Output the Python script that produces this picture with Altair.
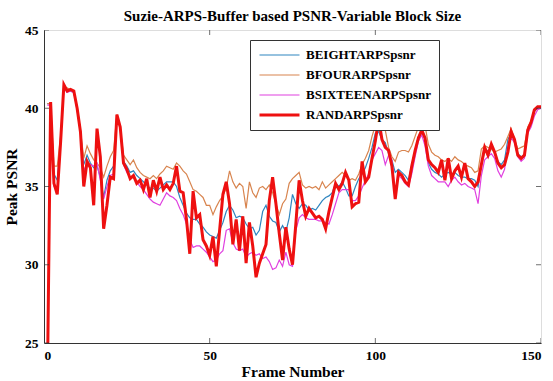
import altair as alt
import pandas as pd

frames = list(range(1, 151))

beight = [40.3, 40.3, 35.8, 35.4, 38.0, 41.3, 41.1, 41.1, 41.0, 40.0,
          38.5, 36.4, 37.0, 36.5, 36.2, 36.3, 35.6, 34.3, 35.4, 36.0,
          36.3, 39.5, 38.8, 36.6, 36.3, 35.9, 36.0, 35.7, 35.5, 35.3,
          35.1, 34.9, 34.9, 34.7, 34.9, 35.1, 35.3, 35.3, 35.3, 35.0,
          34.3, 33.8, 33.3, 33.0, 32.9, 32.9, 32.6, 32.4, 32.1, 31.9,
          31.8, 31.7, 32.2, 32.7, 33.4, 33.8, 33.5, 33.0, 33.1, 33.0,
          32.6, 32.3, 32.4, 31.9, 32.2, 33.4, 33.8, 33.1, 32.8, 32.7,
          32.1, 32.5, 32.1, 33.0, 34.5, 33.9, 33.6, 33.9, 33.8, 33.5,
          33.6, 33.5, 33.8, 34.1, 34.3, 34.4, 34.6, 35.2, 35.0, 35.3,
          34.9, 34.4, 34.4, 35.0, 35.5, 35.8, 36.2, 36.8, 37.5, 38.4,
          38.5, 38.0, 37.8, 37.1, 36.7, 35.9, 36.1, 35.9, 35.7, 35.4,
          36.4, 37.3, 38.2, 38.6, 38.0, 36.5, 36.1, 35.9, 35.8, 35.6,
          35.8, 35.9, 35.8, 35.9, 35.7, 35.6, 35.6, 35.5, 35.5, 35.4,
          35.0, 36.4, 37.2, 37.3, 37.4, 37.2, 36.6, 36.4, 36.7, 38.0,
          38.4, 37.9, 37.1, 36.9, 37.0, 38.6, 39.0, 39.8, 40.0, 40.1]

bfour = [40.3, 40.3, 36.3, 36.3, 38.2, 41.2, 41.3, 41.2, 41.0, 40.1,
         38.6, 36.8, 37.6, 37.1, 36.7, 36.5, 36.2, 35.6, 36.3, 36.9,
         37.3, 39.6, 38.8, 37.0, 36.7, 36.4, 36.7, 36.2, 35.9, 35.7,
         35.6, 35.5, 35.7, 35.5, 35.8, 36.0, 36.3, 36.2, 36.1, 36.5,
         36.3, 36.0, 35.8, 35.3, 34.8, 34.7, 34.5, 34.3, 33.8, 33.8,
         33.2, 33.7, 34.1, 34.4, 34.9, 36.0, 35.3, 34.9, 35.2, 35.0,
         33.6, 35.3, 34.6, 34.3, 34.9, 35.0, 34.8, 35.1, 34.6, 33.9,
         33.2, 33.9, 34.2, 35.2, 35.5, 35.7, 35.9, 35.1, 34.9, 35.0,
         34.9, 35.0, 34.8, 35.3, 34.9, 35.1, 35.3, 35.5, 35.7, 35.9,
         35.7, 35.4, 35.5, 35.4, 35.8, 36.4, 36.8, 37.3, 38.2, 38.9,
         39.4, 39.6, 38.6, 37.5, 36.9, 36.6, 37.2, 37.3, 37.3, 37.2,
         37.6, 38.2, 38.8, 39.3, 38.9, 37.7, 37.2, 37.0, 36.9, 36.7,
         36.6, 36.8, 36.6, 36.9, 36.7, 36.6, 36.4, 36.3, 36.2, 35.9,
         36.0, 37.4, 37.6, 37.5, 37.4, 37.2, 37.3, 37.4, 37.7, 38.2,
         38.7, 38.0, 37.4, 37.5, 37.6, 38.8, 39.2, 39.9, 40.1, 40.1]

bsixteen = [40.2, 40.2, 35.0, 34.8, 37.8, 41.3, 41.0, 41.1, 41.0, 39.9,
            38.4, 36.0, 36.5, 36.4, 36.3, 36.5, 35.4, 34.2, 35.0, 35.7,
            35.8, 39.5, 38.7, 36.4, 35.9, 35.6, 35.6, 35.3, 35.0, 34.8,
            34.5, 34.2, 34.0, 33.9, 33.8, 34.2, 34.6, 34.4, 34.3, 34.1,
            33.6, 33.2, 32.6, 31.6, 31.1, 31.2, 31.2, 31.0, 30.8, 30.5,
            30.2, 30.3, 30.7, 30.9, 32.2, 32.3, 31.4, 31.0, 30.9, 31.0,
            30.5, 30.7, 30.8, 30.6, 30.7, 30.4, 30.5, 30.2, 29.7, 29.8,
            30.3, 29.9, 30.8, 30.0, 29.9, 32.2, 33.0, 33.2, 33.0, 32.9,
            32.9, 32.9, 32.8, 32.8, 32.7, 32.6, 33.2, 33.9, 34.6, 34.8,
            34.8, 34.8, 34.1, 34.1, 34.4, 34.9, 35.4, 35.8, 36.7, 37.1,
            37.5, 37.3, 36.4, 37.0, 36.7, 34.6, 35.7, 35.5, 35.2, 35.0,
            35.8, 36.9, 37.9, 38.3, 37.6, 36.3, 35.7, 35.5, 35.3, 35.3,
            35.3, 35.0, 35.4, 35.6, 35.3, 35.1, 35.2, 35.0, 34.9, 34.8,
            33.9, 35.7, 36.7, 36.9, 37.1, 36.8, 36.0, 35.6, 36.1, 37.6,
            38.1, 37.8, 36.9, 36.6, 36.8, 38.4, 38.8, 39.5, 39.9, 40.0]

rand = [22.0, 40.4, 35.2, 34.5, 37.8, 41.5, 41.1, 41.2, 41.1, 40.0,
        38.5, 35.0, 36.6, 36.2, 33.8, 38.7, 36.9, 32.3, 33.8, 35.6,
        35.5, 39.6, 38.8, 36.5, 36.1, 35.5, 35.7, 35.2, 35.4, 34.8,
        35.5, 34.3, 35.4, 34.7, 35.6, 34.8, 35.1, 34.8, 35.2, 36.3,
        34.7, 34.6, 32.9, 30.7, 34.7, 33.0, 33.2, 31.6, 31.2, 30.6,
        31.8, 29.9, 32.2, 34.5, 35.3, 33.9, 31.3, 32.9, 30.9, 33.1,
        30.1, 32.7, 31.2, 29.2, 30.1, 30.7, 31.3, 34.1, 35.6, 33.9,
        32.0, 30.3, 32.4, 31.0, 30.0, 32.6, 35.4, 34.1, 33.1, 33.6,
        33.3, 33.0, 33.1, 32.9, 32.3, 33.4, 34.3, 35.2, 34.8, 35.2,
        35.9, 35.4, 33.7, 33.9, 34.0, 36.6, 35.3, 35.6, 36.8, 37.9,
        39.3, 38.0, 37.5, 37.3, 36.3, 34.2, 35.9, 35.7, 35.3, 35.1,
        36.3, 37.3, 38.1, 38.6, 38.1, 36.7, 36.4, 36.2, 35.9, 36.7,
        35.4, 36.8, 35.5, 36.0, 36.3, 35.6, 36.5, 35.5, 35.3, 35.0,
        35.3, 36.4, 37.5, 37.0, 37.7, 37.2, 36.5, 36.2, 36.4, 37.2,
        38.5, 38.0, 37.0, 36.8, 37.0, 38.6, 39.1, 39.9, 40.1, 40.1]

names = ["BEIGHTARPSpsnr", "BFOURARPSpsnr", "BSIXTEENARPSpsnr", "RANDARPSpsnr"]
colors = ["#2f86c0", "#d8844e", "#e040e0", "#ee1010"]
widths = [1.2, 1.2, 1.2, 3.0]
x_ticks = [0, 50, 100, 150]
y_ticks = [25, 30, 35, 40, 45]

rows = []
for name, vals in zip(names, [beight, bfour, bsixteen, rand]):
    for f, v in zip(frames, vals):
        rows.append({"frame": f, "psnr": v, "series": name})
df = pd.DataFrame(rows)

W, H = 497, 313
FONT = "Liberation Serif"

xscale = alt.Scale(domain=[0, 150], nice=False)
yscale = alt.Scale(domain=[25, 45], nice=False, zero=False)

leg = alt.Legend(
    title=None, orient="none", legendX=206, legendY=10,
    symbolType="stroke", symbolSize=1600, clipHeight=14,
    rowPadding=6, labelOffset=5, padding=8,
    fillColor="white", strokeColor="#333",
    labelFont=FONT, labelFontSize=13, labelFontWeight="bold", labelColor="black",
)

lines = alt.Chart(df).mark_line(clip=True).encode(
    x=alt.X("frame:Q", scale=xscale,
            axis=alt.Axis(values=x_ticks, title="Frame Number", ticks=False,
                          labelFont=FONT, labelFontSize=13.5, labelFontWeight="bold",
                          labelColor="black", labelPadding=5, domainColor="#333",
                          titleFont=FONT, titleFontSize=15.5, titleFontWeight="bold",
                          titleColor="black", titlePadding=3, grid=False)),
    y=alt.Y("psnr:Q", scale=yscale,
            axis=alt.Axis(values=y_ticks, title="Peak PSNR", ticks=False,
                          labelFont=FONT, labelFontSize=13.5, labelFontWeight="bold",
                          labelColor="black", labelPadding=6, domainColor="#333",
                          titleFont=FONT, titleFontSize=15.5, titleFontWeight="bold",
                          titleColor="black", titlePadding=5, grid=False)),
    color=alt.Color("series:N", scale=alt.Scale(domain=names, range=colors), legend=leg),
    strokeWidth=alt.StrokeWidth("series:N",
                                scale=alt.Scale(type="ordinal", domain=names, range=widths),
                                legend=leg),
)

xt = pd.DataFrame({"t": x_ticks})
yt = pd.DataFrame({"t": y_ticks})
tick_style = dict(thickness=1, size=10, color="#333", clip=True)
xt_bottom = alt.Chart(xt).mark_tick(orient="vertical", **tick_style).encode(
    x=alt.X("t:Q", scale=xscale), y=alt.value(H))
xt_top = alt.Chart(xt).mark_tick(orient="vertical", **tick_style).encode(
    x=alt.X("t:Q", scale=xscale), y=alt.value(0))
yt_left = alt.Chart(yt).mark_tick(orient="horizontal", **tick_style).encode(
    y=alt.Y("t:Q", scale=yscale), x=alt.value(0))
yt_right = alt.Chart(yt).mark_tick(orient="horizontal", **tick_style).encode(
    y=alt.Y("t:Q", scale=yscale), x=alt.value(W))

chart = alt.layer(lines, xt_bottom, xt_top, yt_left, yt_right).properties(
    width=W, height=H,
    title=alt.Title("Suzie-ARPS-Buffer based PSNR-Variable Block Size",
                    font=FONT, fontSize=15, fontWeight="bold", color="black",
                    anchor="middle", offset=4, dy=5),
    autosize=alt.AutoSizeParams(type="none"),
    padding={"left": 44, "top": 30, "right": 12, "bottom": 38},
).configure_view(stroke="#555", strokeWidth=1).configure(background="white")

chart.save("out.html", embed_options={"renderer": "svg", "actions": False})
